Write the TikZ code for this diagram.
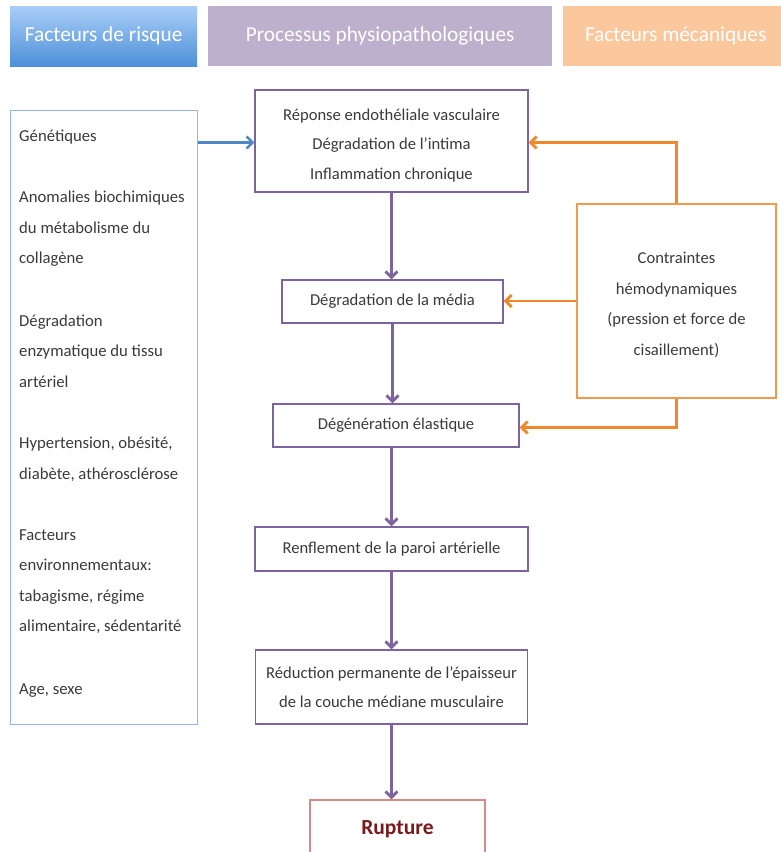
\documentclass[tikz,border=0pt]{standalone}
\usepackage{fontspec}
\setmainfont{Carlito}
\usetikzlibrary{arrows.meta}
\definecolor{purp}{HTML}{7D63A0}
\definecolor{oran}{HTML}{F0882A}
\definecolor{oranbox}{HTML}{F29A4A}
\definecolor{bluearr}{HTML}{4F87C6}
\definecolor{bluebox}{HTML}{94B6E4}
\definecolor{rupb}{HTML}{D88A88}
\definecolor{rupt}{HTML}{7A1A1A}
\definecolor{txt}{HTML}{3A3A3A}
\definecolor{hblueT}{HTML}{A9CEF7}
\definecolor{hblueB}{HTML}{4E90D8}
\definecolor{hpurp}{HTML}{BDB0CC}
\definecolor{horan}{HTML}{FBC89D}
\begin{document}
\begin{tikzpicture}[x=1pt,y=-1pt,
  hdr/.style={anchor=north west, minimum height=60, inner sep=0pt, text=white,
    font=\fontsize{21.3}{24}\selectfont},
  proc/.style={draw=purp, line width=1.4pt, fill=white, align=center, inner sep=0pt,
    text=txt, font=\fontsize{16.6}{29.6}\selectfont},
  parr/.style={draw=purp, line width=2.7pt, -{Straight Barb[length=6pt,width=12pt]}},
  oarr/.style={draw=oran, line width=2.7pt, -{Straight Barb[length=6pt,width=12pt]}},
  barr/.style={draw=bluearr, line width=2.5pt, -{Straight Barb[length=6pt,width=12pt]}},
  body/.style={text=txt, font=\fontsize{16.7}{30.5}\selectfont}
]
\useasboundingbox (0,0) rectangle (781,852);
% headers
\node[hdr, minimum width=187, top color=hblueT, bottom color=hblueB] (h1) at (10,6) {Facteurs de risque};
\node[hdr, minimum width=344, fill=hpurp] (h2) at (208,6) {Processus physiopathologiques};
\node[hdr, minimum width=225, fill=horan] (h3) at (563,6) {Facteurs mécaniques};
% left box
\node[draw=bluebox, line width=1.4pt, anchor=north west, minimum width=187, minimum height=614, inner sep=0pt] (risk) at (10,110) {};
\node[body, anchor=north west, align=left, inner sep=0pt] (risktext) at (19,130) {%
Génétiques\\[30.5pt]
Anomalies biochimiques\\
du métabolisme du\\
collagène\\[32pt]
Dégradation\\
enzymatique du tissu\\
artériel\\[31pt]
Hypertension, obésité,\\
diabète, athérosclérose\\[30.5pt]
Facteurs\\
environnementaux:\\
tabagisme, régime\\
alimentaire, sédentarité\\[32pt]
Age, sexe};
% process boxes
\node[proc, minimum width=273, minimum height=102] (b1) at (391.5,141) {};
\node[proc, draw=none, fill=none, yshift=-4.5] (b1text) at (b1.center) {Réponse endothéliale vasculaire\\Dégradation de l’intima\\Inflammation chronique};
\node[proc, minimum width=221, minimum height=43] (b2) at (392.5,301.5) {Dégradation de la média};
\node[proc, minimum width=246, minimum height=43] (b3) at (396,425.5) {Dégénération élastique};
\node[proc, minimum width=273, minimum height=44] (b4) at (391.5,549) {Renflement de la paroi artérielle};
\node[proc, minimum width=272, minimum height=74] (b5) at (391.5,687) {Réduction permanente de l’épaisseur\\de la couche médiane musculaire};
\node[draw=rupb, line width=1.4pt, fill=white, minimum width=175, minimum height=58, inner sep=0pt,
  text=rupt, font=\fontsize{21.5}{24}\selectfont\bfseries] (b6) at (397.5,829) {Rupture};
% orange box
\node[draw=oranbox, line width=1.6pt, minimum width=199, minimum height=194, inner sep=0pt] (ob) at (676.5,301) {};
\node[align=center, inner sep=0pt, text=txt, font=\fontsize{16.6}{30.5}\selectfont, yshift=-4] (obtext) at (ob.center) {Contraintes\\hémodynamiques\\(pression et force de\\cisaillement)};
% arrows
\draw[barr] ([yshift=-1.5]b1.west -| risk.east) -- ([yshift=-1.5]b1.west);
\draw[parr] (b1.south) -- (b1.south |- b2.north);
\draw[parr] (b2.south) -- (b2.south |- b3.north);
\draw[parr] (b4.north |- b3.south) -- (b4.north);
\draw[parr] (b4.south) -- (b4.south |- b5.north);
\draw[parr] (b5.south) -- (b5.south |- b6.north);
\draw[oarr] (ob.north) |- ([yshift=-1.5]b1.east);
\draw[oarr] (ob.west) -- (ob.west -| b2.east);
\draw[oarr] (ob.south) |- ([yshift=-2]b3.east);
\end{tikzpicture}
\end{document}
